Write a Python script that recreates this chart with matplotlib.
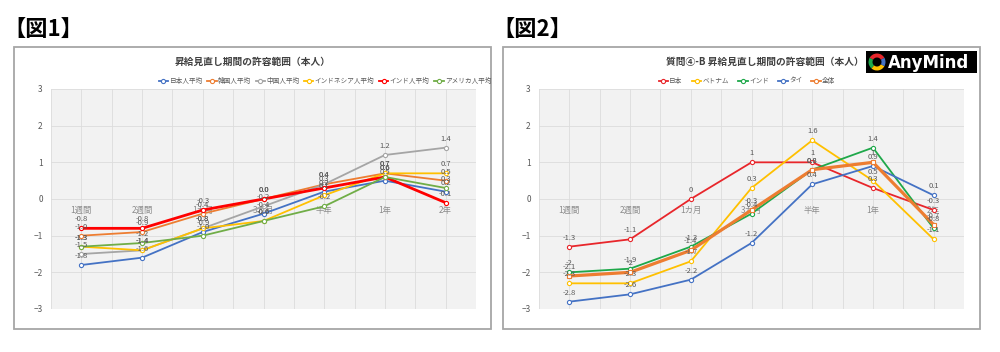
import matplotlib
matplotlib.use("Agg")
import matplotlib.pyplot as plt
from matplotlib.patches import Rectangle, Wedge
from matplotlib.lines import Line2D

plt.rcParams['font.family'] = ['Noto Sans CJK JP', 'DejaVu Sans']

categories = ["1週間", "2週間", "1カ月", "3カ月", "半年", "1年", "2年"]

# 図1
fig1_names = ["日本人平均", "韓国人平均", "中国人平均", "インドネシア人平均", "インド人平均", "アメリカ人平均"]
fig1_japan = [-1.8, -1.6, -0.9, -0.4, 0.2, 0.5, 0.2]
fig1_korea = [-1.0, -0.9, -0.4, 0.0, 0.4, 0.7, 0.5]
fig1_china = [-1.5, -1.4, -0.8, -0.2, 0.4, 1.2, 1.4]
fig1_indonesia = [-1.3, -1.4, -0.8, -0.6, 0.1, 0.7, 0.7]
fig1_india = [-0.8, -0.8, -0.3, 0.0, 0.3, 0.6, -0.1]
fig1_usa = [-1.3, -1.2, -1.0, -0.6, -0.2, 0.6, 0.3]
fig1_colors = ["#4472C4", "#ED7D31", "#A5A5A5", "#FFC000", "#FF0000", "#70AD47"]

# 図2
fig2_names = ["日本", "ベトナム", "インド", "タイ", "全体"]
fig2_japan = [-1.3, -1.1, 0, 1, 1, 0.3, -0.3]
fig2_vietnam = [-2.3, -2.3, -1.7, 0.3, 1.6, 0.5, -1.1]
fig2_india = [-2, -1.9, -1.3, -0.4, 0.8, 1.4, -0.8]
fig2_thai = [-2.8, -2.6, -2.2, -1.2, 0.4, 0.9, 0.1]
fig2_total = [-2.1, -2, -1.4, -0.3, 0.8, 1, -0.7]
fig2_colors = ["#E8262B", "#FFC000", "#1EA84A", "#4472C4", "#ED7D31"]

W, H = 1000, 352
fig = plt.figure(figsize=(W / 100, H / 100), dpi=100)


def fx(px):
    return px / W


def fy(py):
    return 1 - py / H


def chart_box(left, right):
    fig.patches.append(Rectangle((fx(left), fy(329)), fx(right - left), (329 - 47) / H,
                                 transform=fig.transFigure, facecolor="white",
                                 edgecolor="#a6a6a6", linewidth=1.3, zorder=-5))


def setup_axes(left):
    ax = fig.add_axes([fx(left), fy(309), 425 / W, 220 / H])
    ax.set_facecolor("#f2f2f2")
    ax.set_xlim(-0.5, 6.5)
    ax.set_ylim(-3, 3)
    ax.set_xticks(range(len(categories)))
    ax.set_xticklabels(categories)
    ax.set_xticks([i - 0.5 for i in range(len(categories) + 1)], minor=True)
    ax.set_yticks(range(-3, 4))
    ax.grid(True, which="both", axis="x", color="#dcdcdc", linewidth=0.6)
    ax.grid(True, which="major", axis="y", color="#dcdcdc", linewidth=0.6)
    ax.spines['bottom'].set_position(('data', 0))
    for s in ax.spines.values():
        s.set_visible(False)
    ax.tick_params(axis="both", which="both", length=0)
    ax.tick_params(axis="x", pad=5, labelsize=6, labelcolor="#8c8c8c")
    ax.tick_params(axis="y", pad=6, labelsize=6, labelcolor="#595959")
    ax.set_axisbelow(True)
    return ax


def draw_series(ax, values, color, fmt, lw=1.3, marker="o"):
    x = range(len(values))
    ax.plot(x, values, color=color, linewidth=lw, marker=marker, markersize=3,
            markerfacecolor="white", markeredgecolor=color, markeredgewidth=0.8)
    for i, v in enumerate(values):
        ax.annotate(fmt(v), (i, v), xytext=(0, 3.5), textcoords="offset points",
                    ha="center", va="bottom", fontsize=5.5, color="#595959")


# ---------- 図1 ----------
fig.text(fx(3), fy(30), "【図1】", fontsize=16, fontweight="bold", va="center", ha="left")
chart_box(14, 491)
ax1 = setup_axes(51)
fmt1 = lambda v: f"{v:.1f}"
fig1_values = [fig1_japan, fig1_korea, fig1_china, fig1_indonesia, fig1_india, fig1_usa]
for vals, col in zip(fig1_values, fig1_colors):
    draw_series(ax1, vals, col, fmt1, lw=2.0 if col == "#FF0000" else 1.3)
fig.text(fx(253), fy(62), "昇給見直し期間の許容範囲（本人）", fontsize=7, fontweight="bold",
         color="#404040", ha="center", va="center")
h1 = [Line2D([], [], color=c, linewidth=1.3, marker="o", markersize=3, markerfacecolor="white",
             markeredgewidth=0.8) for c in fig1_colors]
fig.legend(h1, fig1_names, loc="center", bbox_to_anchor=(fx(325), fy(81)), ncol=6,
           frameon=False, fontsize=4.8, handlelength=1.4, handletextpad=0.2,
           columnspacing=0.7, labelcolor="#595959")

# ---------- 図2 ----------
fig.text(fx(492), fy(30), "【図2】", fontsize=16, fontweight="bold", va="center", ha="left")
chart_box(503, 980)
ax2 = setup_axes(539)
fmt2 = lambda v: f"{v:g}"
fig2_values = [fig2_japan, fig2_vietnam, fig2_india, fig2_thai, fig2_total]
for vals, col in zip(fig2_values, fig2_colors):
    draw_series(ax2, vals, col, fmt2, lw=2.3 if col == "#ED7D31" else 1.3,
                marker="s" if col == "#ED7D31" else "o")
fig.text(fx(765), fy(62), "質問④-B 昇給見直し期間の許容範囲（本人）", fontsize=7, fontweight="bold",
         color="#404040", ha="center", va="center")
h2 = [Line2D([], [], color=c, linewidth=1.3, marker="o", markersize=3, markerfacecolor="white",
             markeredgewidth=0.8) for c in fig2_colors]
fig.legend(h2, fig2_names, loc="center", bbox_to_anchor=(fx(747), fy(81)), ncol=5,
           frameon=False, fontsize=4.8, handlelength=1.4, handletextpad=0.2,
           columnspacing=1.4, labelcolor="#595959")

# AnyMind logo
logo = fig.add_axes([fx(866), fy(73), 111 / W, 22 / H])
logo.set_facecolor("black")
logo.set_xlim(0, 111)
logo.set_ylim(0, 22)
logo.set_xticks([])
logo.set_yticks([])
for s in logo.spines.values():
    s.set_visible(False)
for t1, t2, c in [(30, 150, "#E8262B"), (150, 230, "#1EA84A"), (230, 330, "#FFC000"), (330, 390, "#4472C4")]:
    logo.add_patch(Wedge((11, 11), 8.5, t1, t2, width=4, facecolor=c, edgecolor="none"))
logo.text(22, 10.5, "AnyMind", color="white", fontsize=12, fontweight="bold",
          family=["DejaVu Sans"], va="center", ha="left")

fig.savefig("out.png", dpi=100)
